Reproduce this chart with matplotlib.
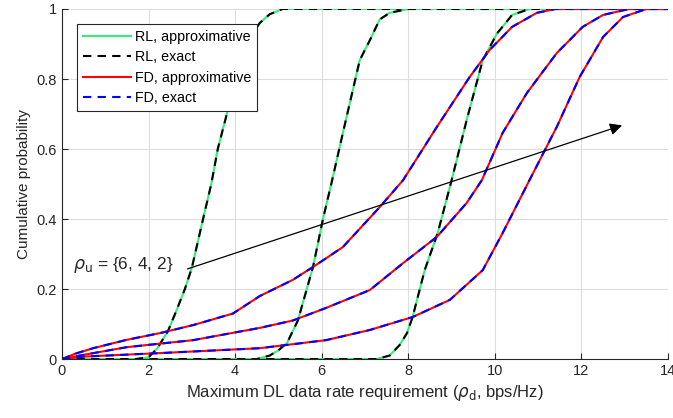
import matplotlib.pyplot as plt

plt.rcParams['font.family'] = ['Liberation Sans', 'DejaVu Sans']

# RL curves (approximative and exact overlap)
rl1_x = [0, 1.7, 2.0, 2.2, 2.45, 2.65, 2.84, 3.0, 3.26, 3.45, 3.6, 3.83, 4.1, 4.35, 4.57, 4.8, 5.1, 14]
rl1_y = [0, 0, 0.005, 0.03, 0.08, 0.14, 0.2, 0.26, 0.4, 0.5, 0.6, 0.71, 0.83, 0.92, 0.96, 0.985, 1, 1]
rl2_x = [0, 4.5, 4.8, 5.0, 5.2, 5.45, 5.8, 6.03, 6.24, 6.49, 6.88, 7.11, 7.34, 7.57, 8.0, 14]
rl2_y = [0, 0, 0.01, 0.025, 0.046, 0.11, 0.263, 0.4, 0.51, 0.646, 0.854, 0.91, 0.97, 0.989, 1, 1]
rl3_x = [0, 7.27, 7.57, 7.8, 7.97, 8.1, 8.38, 8.68, 9.0, 9.35, 9.72, 10.05, 10.4, 10.8, 14]
rl3_y = [0, 0, 0.01, 0.04, 0.074, 0.12, 0.254, 0.36, 0.51, 0.683, 0.854, 0.93, 0.983, 1, 1]

# FD curves
fd1_x = [0, 0.3, 0.72, 1.5, 2.26, 3.03, 3.95, 4.57, 5.33, 5.8, 6.49, 7.34, 7.88, 8.66, 9.42, 9.88, 10.4, 10.97, 11.4, 14]
fd1_y = [0, 0.015, 0.031, 0.055, 0.074, 0.097, 0.13, 0.18, 0.226, 0.263, 0.32, 0.434, 0.511, 0.663, 0.806, 0.883, 0.949, 0.989, 1, 1]
fd2_x = [0, 0.5, 1.5, 3.03, 4.57, 5.33, 6.1, 7.11, 7.88, 8.66, 9.35, 9.7, 10.18, 10.74, 11.43, 12.03, 12.5, 13.1, 14]
fd2_y = [0, 0.012, 0.034, 0.054, 0.089, 0.11, 0.146, 0.197, 0.274, 0.349, 0.446, 0.511, 0.646, 0.76, 0.874, 0.949, 0.983, 1, 1]
fd3_x = [0, 0.5, 2.26, 4.57, 6.1, 7.11, 8.1, 8.96, 9.72, 10.18, 10.8, 11.43, 11.96, 12.5, 12.96, 13.5, 14]
fd3_y = [0, 0.007, 0.017, 0.031, 0.054, 0.083, 0.12, 0.169, 0.254, 0.36, 0.511, 0.663, 0.806, 0.92, 0.977, 1, 1]

rl_curves = [(rl1_x, rl1_y), (rl2_x, rl2_y), (rl3_x, rl3_y)]
fd_curves = [(fd1_x, fd1_y), (fd2_x, fd2_y), (fd3_x, fd3_y)]

green = '#33ee77'
axcol = '#262626'

fig = plt.figure(figsize=(6.73, 4.18), dpi=100)
ax = fig.add_axes([0.092, 0.141, 0.9006, 0.8375])

for i, (x, y) in enumerate(rl_curves):
    ax.plot(x, y, color=green, lw=1.5, label='RL, approximative' if i == 0 else None)
    ax.plot(x, y, color='black', lw=1.5, ls=(0, (4, 3)), label='RL, exact' if i == 0 else None)
for i, (x, y) in enumerate(fd_curves):
    ax.plot(x, y, color='red', lw=1.5, label='FD, approximative' if i == 0 else None)
    ax.plot(x, y, color='blue', lw=1.5, ls=(0, (4, 3)), label='FD, exact' if i == 0 else None)

ax.set_xlim(0, 14)
ax.set_ylim(0, 1)
ax.set_xticks(range(0, 15, 2))
ax.set_yticks([0, 0.2, 0.4, 0.6, 0.8, 1])
ax.set_yticklabels(['0', '0.2', '0.4', '0.6', '0.8', '1'])
ax.grid(True, color='#dddddd', lw=0.8)
ax.set_axisbelow(True)
for s in ['top', 'right']:
    ax.spines[s].set_visible(False)
for s in ['left', 'bottom']:
    ax.spines[s].set_color(axcol)
ax.tick_params(direction='in', colors=axcol, labelsize=10.5, length=4)

ax.set_xlabel(r'Maximum DL data rate requirement ($\rho_{\rm d}$, bps/Hz)', fontsize=12, color=axcol)
ax.set_ylabel('Cumulative probability', fontsize=11, color=axcol)

ax.annotate('', xy=(13.0, 0.67), xytext=(2.84, 0.255),
            arrowprops=dict(arrowstyle='-|>', color='black', lw=0.9, mutation_scale=18))
ax.text(0.25, 0.27, r'$\rho_{\rm u}$ = {6, 4, 2}', fontsize=12.5, va='center', ha='left', color=axcol)

leg = ax.legend(loc='upper left', bbox_to_anchor=(0.0248, 0.957), fontsize=10.3, fancybox=False,
                framealpha=1, edgecolor=axcol, handlelength=3.35, borderpad=0.4, labelspacing=0.45,
                handletextpad=0.3, borderaxespad=0)
leg.get_frame().set_linewidth(0.8)

fig.savefig('out.png', dpi=100)
